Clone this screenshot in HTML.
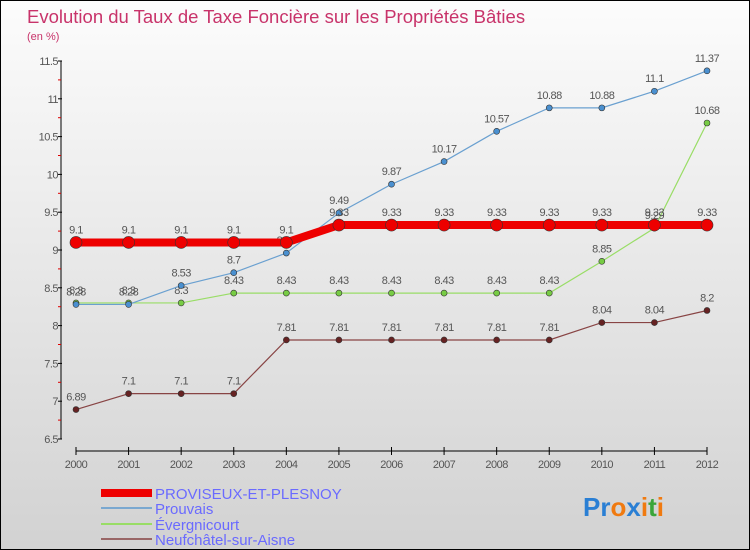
<!DOCTYPE html>
<html><head><meta charset="utf-8"><style>
body{margin:0}
#c{width:748px;height:548px;border:1px solid #000;background:linear-gradient(#fcfcfc,#d2d2d2);position:relative;font-family:"Liberation Sans",sans-serif;overflow:hidden}
</style></head><body>
<div id="c">
<svg id="s" width="748" height="548" style="position:absolute;left:0;top:0">
<text x="26" y="22" font-size="18.5" fill="#c8336a">Evolution du Taux de Taxe Foncière sur les Propriétés Bâties</text>
<text x="26" y="39" font-size="11" fill="#c8336a">(en %)</text>
<g id="axes"></g><g id="series"></g>
<g>
<rect x="100" y="488" width="51" height="8" fill="#e00"/>
<text x="154" y="498" font-size="15" fill="#6a6aff">PROVISEUX-ET-PLESNOY</text>
<line x1="100" y1="507" x2="151" y2="507" stroke="#7aa8d0" stroke-width="2"/>
<text x="154" y="513" font-size="15" fill="#6a6aff">Prouvais</text>
<line x1="100" y1="523" x2="151" y2="523" stroke="#99dd66" stroke-width="2"/>
<text x="154" y="529" font-size="15" fill="#6a6aff">Évergnicourt</text>
<line x1="100" y1="538" x2="151" y2="538" stroke="#996666" stroke-width="2"/>
<text x="154" y="544" font-size="15" fill="#6a6aff">Neufchâtel-sur-Aisne</text>
</g>
<text x="582" y="515" font-size="26" font-weight="bold"><tspan fill="#2a7fd4">Pr</tspan><tspan fill="#f07a10">o</tspan><tspan fill="#2a7fd4">x</tspan><tspan fill="#f07a10">i</tspan><tspan fill="#3aa53a">t</tspan><tspan fill="#f07a10">i</tspan></text>
</svg>
</div>
<script>
const years=[2000,2001,2002,2003,2004,2005,2006,2007,2008,2009,2010,2011,2012];
const proviseux=[9.1,9.1,9.1,9.1,9.1,9.33,9.33,9.33,9.33,9.33,9.33,9.33,9.33];
const prouvais=[8.28,8.28,8.53,8.7,8.96,9.49,9.87,10.17,10.57,10.88,10.88,11.1,11.37];
const evergnicourt=[8.3,8.3,8.3,8.43,8.43,8.43,8.43,8.43,8.43,8.43,8.85,9.29,10.68];
const neufchatel=[6.89,7.1,7.1,7.1,7.81,7.81,7.81,7.81,7.81,7.81,8.04,8.04,8.2];
const yTicks=[6.5,7,7.5,8,8.5,9,9.5,10,10.5,11,11.5];
const NS="http://www.w3.org/2000/svg";
const X=i=>75+i*(631/12);
const Y=v=>438-(v-6.5)*75.6;
function mk(t,a,p){const e=document.createElementNS(NS,t);for(const k in a)e.setAttribute(k,a[k]);p.appendChild(e);return e;}
const ax=document.getElementById('axes');
let l=mk('line',{x1:60,y1:60,x2:60,y2:438,stroke:'#000'},ax);


l=mk('line',{x1:75,y1:450,x2:706,y2:450,stroke:'#000'},ax);


yTicks.forEach((v,i)=>{
  mk('line',{x1:57,y1:Y(v),x2:61,y2:Y(v),stroke:'#000'},ax);
  if(i<yTicks.length-1)mk('line',{x1:57,y1:Y(v+0.25),x2:60,y2:Y(v+0.25),stroke:'#d00'},ax);
  const t=mk('text',{x:57,y:Y(v)+4,'font-size':11,fill:'#555','text-anchor':'end','letter-spacing':'-0.5'},ax);
  t.textContent=String(v);
  
  
});
years.forEach((y,i)=>{
  mk('line',{x1:X(i),y1:446,x2:X(i),y2:454,stroke:'#000'},ax);
  const t=mk('text',{x:X(i),y:467,'font-size':11,fill:'#555','text-anchor':'middle','letter-spacing':'-0.5'},ax);
  t.textContent=y;
  
  
});
const sg=document.getElementById('series');
function series(name,vals,color,w,r,fill){
  const g=mk('g',{},sg);
  
  
  const pl=mk('polyline',{points:vals.map((v,i)=>X(i)+','+Y(v)).join(' '),fill:'none',stroke:color,'stroke-width':w},g);
  
  
  vals.forEach((v,i)=>{
    const c=mk('circle',{cx:X(i),cy:Y(v),r:r,fill:fill,stroke:'#333','stroke-width':0.6},g);
    
    
    const t=mk('text',{x:X(i),y:Y(v)-9,'font-size':11,fill:'#555','text-anchor':'middle','letter-spacing':'-0.5'},g);
    t.textContent=String(v);
    
    
  });
}
series('neufchatel',neufchatel,'#884444',1.2,3,'#662222');
series('evergnicourt',evergnicourt,'#99dd66',1.2,3,'#77cc44');
series('prouvais',prouvais,'#6aa0d0',1.2,3,'#4a90d0');
series('proviseux',proviseux,'#ee0000',8,6,'#ee0000');
</script>
</body></html>
